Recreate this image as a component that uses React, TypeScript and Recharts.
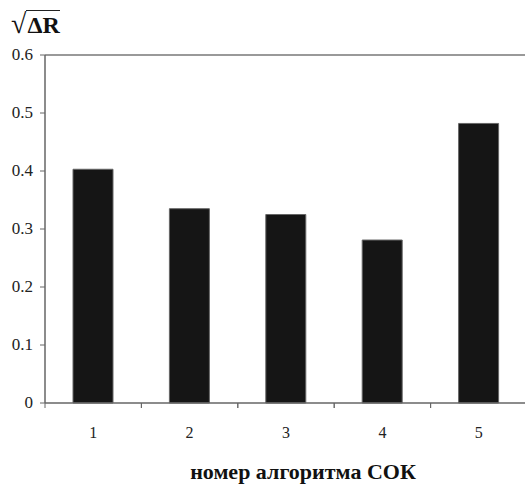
import React from "react";
import { BarChart, Bar, XAxis, YAxis, ReferenceLine } from "recharts";

const categories = ["1", "2", "3", "4", "5"];
const values = [0.403, 0.335, 0.325, 0.281, 0.482];
const yTicks = [0, 0.1, 0.2, 0.3, 0.4, 0.5, 0.6];
const yTickLabels = ["0", "0.1", "0.2", "0.3", "0.4", "0.5", "0.6"];
const yLabel = "ΔR";
const xLabel = "номер алгоритма СОК";

const data = categories.map((c, i) => ({ name: c, value: values[i] }));

const CHART_W = 540;
const CHART_H = 486;
const LEFT = 45;
const RIGHT_MARGIN = 13;
const HALF_BAND = (CHART_W - LEFT - RIGHT_MARGIN) / categories.length / 2;
const FONT = "'Liberation Serif', 'Times New Roman', serif";

const XTick = (props: any) => {
  const { x, y, payload } = props;
  const bx = x - HALF_BAND;
  return (
    <g>
      <line x1={bx} y1={y - 5} x2={bx} y2={y} stroke="#666" strokeWidth={1} />
      <line x1={x + HALF_BAND} y1={y - 5} x2={x + HALF_BAND} y2={y} stroke="#666" strokeWidth={1} />
      <text x={x} y={y + 30} textAnchor="middle" fontFamily={FONT} fontSize={16} fill="#222">
        {payload.value}
      </text>
    </g>
  );
};

const YTick = (props: any) => {
  const { x, y, payload } = props;
  const idx = yTicks.indexOf(payload.value);
  return (
    <text x={x} y={y + 5} textAnchor="end" fontFamily={FONT} fontSize={17} fill="#222">
      {idx >= 0 ? yTickLabels[idx] : String(payload.value)}
    </text>
  );
};

export default function App() {
  return (
    <div style={{ position: "absolute", left: 0, top: 0, width: 525, height: 486, overflow: "hidden", background: "#fff" }}>
      <BarChart
        width={CHART_W}
        height={CHART_H}
        data={data}
        margin={{ top: 55, right: RIGHT_MARGIN, left: 0, bottom: 0 }}
        barSize={40}
      >
        <ReferenceLine y={0.6} stroke="#777" strokeWidth={1.5} ifOverflow="extendDomain" />
        <XAxis
          dataKey="name"
          height={83}
          tickSize={5}
          tickMargin={0}
          tickLine={false}
          axisLine={{ stroke: "#666", strokeWidth: 1.5 }}
          tick={<XTick />}
          interval={0}
          label={{
            value: xLabel,
            position: "insideBottom",
            offset: 7,
            dx: 17,
            style: { fontFamily: FONT, fontSize: 22, fontWeight: "bold", fill: "#111" },
          }}
        />
        <YAxis
          width={LEFT}
          domain={[0, 0.6]}
          ticks={yTicks}
          interval={0}
          tickSize={5}
          tickMargin={7}
          axisLine={{ stroke: "#666", strokeWidth: 1.5 }}
          tickLine={{ stroke: "#666" }}
          tick={<YTick />}
        />
        <Bar dataKey="value" fill="#151515" stroke="#666" strokeWidth={1} isAnimationActive={false} />
      </BarChart>
      <div
        style={{
          position: "absolute",
          left: 11,
          top: 9,
          fontFamily: FONT,
          fontSize: 24,
          fontWeight: "bold",
          color: "#111",
          lineHeight: "28px",
          display: "flex",
          alignItems: "flex-end",
        }}
      >
        <span style={{ fontWeight: "normal", fontSize: 28, lineHeight: "30px" }}>√</span>
        <span style={{ borderTop: "1.5px solid #222", paddingTop: 0, paddingLeft: 1 }}>{yLabel}</span>
      </div>
    </div>
  );
}
